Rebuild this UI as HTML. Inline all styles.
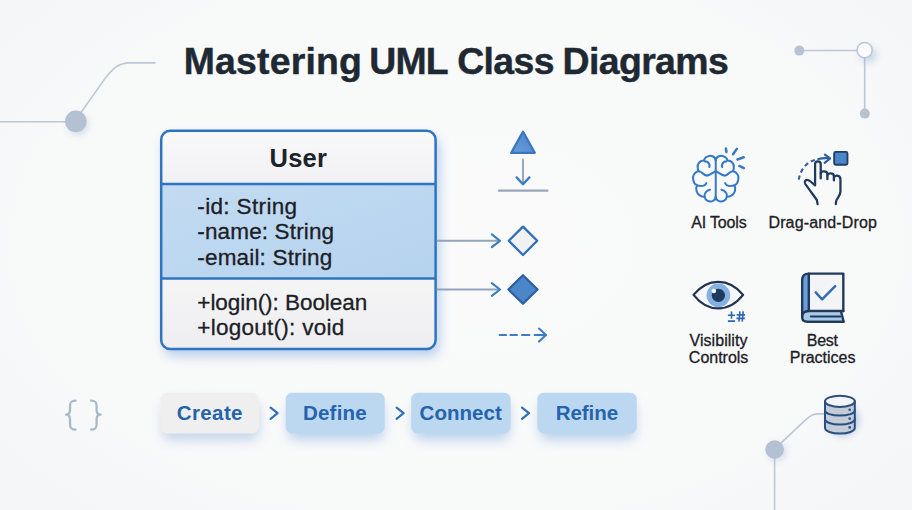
<!DOCTYPE html>
<html>
<head>
<meta charset="utf-8">
<style>
html,body{margin:0;padding:0;}
body{width:912px;height:510px;overflow:hidden;position:relative;background:#f8f9fa;
  font-family:"Liberation Sans",sans-serif;}
#bg{position:absolute;left:0;top:0;width:912px;height:510px;
  background:radial-gradient(ellipse 75% 85% at 50% 48%,#fafafb 0%,#f8f9f9 60%,#f3f4f6 100%);}
svg{position:absolute;left:0;top:0;}
text{font-family:"Liberation Sans",sans-serif;}
.b{font-weight:bold;}
#texts text:not(.b){stroke:#1c2026;stroke-width:0.3px;}
#t_t1,#t_t2,#t_t3,#t_t4{stroke:#1f2933;stroke-width:0.45px;}
</style>
</head>
<body>
<div id="bg"></div>
<svg id="main" width="912" height="510" viewBox="0 0 912 510" fill="none">
<defs>
  <filter id="shBox" x="-20%" y="-20%" width="140%" height="150%">
    <feGaussianBlur stdDeviation="6"/>
  </filter>
  <filter id="shPill" x="-30%" y="-50%" width="160%" height="250%">
    <feGaussianBlur stdDeviation="6"/>
  </filter>
  <filter id="shNode" x="-100%" y="-100%" width="300%" height="300%">
    <feGaussianBlur stdDeviation="3.5"/>
  </filter>
  <linearGradient id="hdG" x1="0" y1="0" x2="0" y2="1">
    <stop offset="0" stop-color="#f9f9fa"/><stop offset="1" stop-color="#f1f1f3"/>
  </linearGradient>
  <linearGradient id="opG" x1="0" y1="0" x2="0" y2="1">
    <stop offset="0" stop-color="#f5f5f6"/><stop offset="1" stop-color="#eeeef0"/>
  </linearGradient>
  <linearGradient id="atG" x1="0" y1="0" x2="1" y2="1">
    <stop offset="0" stop-color="#c2dbf2"/><stop offset="1" stop-color="#b6d3ee"/>
  </linearGradient>
  <linearGradient id="triG" x1="0" y1="1" x2="1" y2="0">
    <stop offset="0" stop-color="#6a9edb"/><stop offset="1" stop-color="#4682c8"/>
  </linearGradient>
  <clipPath id="boxClip"><rect x="161.2" y="130.7" width="274.4" height="218.2" rx="9"/></clipPath>
</defs>
<!--DECO-->
<g id="deco" stroke="#bcc8d7" stroke-width="1.6" stroke-linecap="round">
  <!-- top-left -->
  <path d="M0 121.8 H66"/>
  <path d="M81.5 111.8 L103.5 80.6 C112 69, 118 62.9, 130 62.9 H155" />
  <circle cx="78" cy="124.5" r="10" fill="#9db4cf" stroke="none" opacity="0.45" filter="url(#shNode)"/>
  <circle cx="75.8" cy="121.3" r="10.8" fill="#b3c1d3" stroke="none"/>
  <!-- top-right -->
  <path d="M804 50.5 H857"/>
  <path d="M864.7 58 V109"/>
  <circle cx="799.3" cy="50.6" r="5" fill="#b6c3d3" stroke="none"/>
  <circle cx="864.8" cy="113.6" r="5" fill="#b6c3d3" stroke="none"/>
  <circle cx="868.5" cy="54.5" r="8" fill="#8fb0d8" stroke="none" opacity="0.45" filter="url(#shNode)"/>
  <circle cx="864.6" cy="50.1" r="7.6" fill="#fbfcfd" stroke="#bcc8d7" stroke-width="1.6"/>
  <!-- bottom-right -->
  <path d="M774.6 458 V510"/>
  <path d="M781.4 442.7 L805.3 420.2 C811 415, 814 413.9, 819 413.9 H826"/>
  <circle cx="777" cy="452" r="9" fill="#9db4cf" stroke="none" opacity="0.4" filter="url(#shNode)"/>
  <circle cx="774.6" cy="449.5" r="9.3" fill="#b3c1d3" stroke="none"/>
  <!-- braces -->
  <g stroke="#a9b9cc" stroke-width="2.3" fill="none" stroke-linejoin="round">
    <path d="M75.6 400.6 C71.2 400.6, 70 402, 70 406 V410 C70 413, 68.5 414.6, 66 414.6 C68.5 414.6, 70 416.2, 70 419.2 V424.2 C70 428.2, 71.2 429.6, 75.6 429.6"/>
    <path d="M91 400.6 C95.4 400.6, 96.6 402, 96.6 406 V410 C96.6 413, 98.1 414.6, 100.6 414.6 C98.1 414.6, 96.6 416.2, 96.6 419.2 V424.2 C96.6 428.2, 95.4 429.6, 91 429.6"/>
  </g>
</g>
<!--BOX-->
<g id="box">
  <rect x="164" y="137" width="275" height="219" rx="10" fill="#5590d6" opacity="0.42" filter="url(#shBox)"/>
  <g clip-path="url(#boxClip)">
    <rect x="160" y="129" width="278" height="55" fill="url(#hdG)"/>
    <rect x="160" y="184" width="278" height="95" fill="url(#atG)"/>
    <rect x="160" y="278.6" width="278" height="72" fill="url(#opG)"/>
  </g>
  <path d="M161 184.05 H436" stroke="#2f74c0" stroke-width="2.5"/>
  <path d="M161 278.6 H436" stroke="#2f74c0" stroke-width="2.5"/>
  <rect x="161.2" y="130.7" width="274.4" height="218.2" rx="9" stroke="#2f74c0" stroke-width="2.5"/>
</g>
<!--CONN-->
<g id="conn" stroke-linecap="round" stroke-linejoin="round">
  <!-- triangle / inheritance -->
  <path d="M523 131.6 L534.8 152.9 H511.2 Z" fill="url(#triG)" stroke="#3a77bf" stroke-width="2.2"/>
  <path d="M523 159.5 V183" stroke="#98a7bb" stroke-width="2"/>
  <path d="M516.6 177.4 L523 184.3 L529.4 177.4" stroke="#3b7cc4" stroke-width="2.4"/>
  <path d="M499 190.6 H547.3" stroke="#9aa7ba" stroke-width="2.4" />
  <!-- connector 1 -->
  <path d="M437.5 240.8 H499" stroke="#93a3ba" stroke-width="1.9"/>
  <path d="M491.8 234.4 L500 240.8 L491.8 247.2" stroke="#3b7cc4" stroke-width="2.1"/>
  <path d="M523 226.6 L537.2 240.8 L523 255 L508.8 240.8 Z" fill="#f0f1f3" stroke="#2f6fb8" stroke-width="2.3"/>
  <!-- connector 2 -->
  <path d="M437.5 289.5 H499" stroke="#93a3ba" stroke-width="1.9"/>
  <path d="M491.8 283.1 L500 289.5 L491.8 295.9" stroke="#3b7cc4" stroke-width="2.1"/>
  <path d="M523 275.2 L537.6 289.5 L523 303.8 L508.4 289.5 Z" fill="#4a86c8" stroke="#2b5f9f" stroke-width="2.2"/>
  <!-- dashed arrow -->
  <path d="M499.6 335 H506.2 M510.4 335 H517 M522 335 H529.4 M534.6 335 H545.6" stroke="#3b7cc4" stroke-width="2"/>
  <path d="M539 328.6 L546 335 L539 341.6" stroke="#3b7cc4" stroke-width="2.1"/>
</g>
<!--STEPS-->
<g id="steps">
  <g filter="url(#shPill)" opacity="0.42">
    <rect x="163" y="402" width="96" height="38" rx="8" fill="#7fa3d2"/>
    <rect x="288" y="402" width="96" height="38" rx="8" fill="#6a9dda"/>
    <rect x="413.5" y="402" width="96" height="38" rx="8" fill="#6a9dda"/>
    <rect x="539.5" y="402" width="96" height="38" rx="8" fill="#6a9dda"/>
  </g>
  <rect x="160.5" y="392.8" width="98.5" height="40.6" rx="6.5" fill="#efeff0"/>
  <rect x="285.7" y="392.7" width="99" height="40.7" rx="6.5" fill="#bcd8f1"/>
  <rect x="411.2" y="392.7" width="99.5" height="40.7" rx="6.5" fill="#bcd8f1"/>
  <rect x="537.3" y="392.7" width="99.5" height="40.7" rx="6.5" fill="#bcd8f1"/>
  <g stroke="#2f6fbd" stroke-width="2.2" stroke-linecap="round" stroke-linejoin="round">
    <path d="M270.6 407.6 L277.6 413.2 L270.6 418.8"/>
    <path d="M396.6 407.6 L403.6 413.2 L396.6 418.8"/>
    <path d="M522 407.6 L529 413.2 L522 418.8"/>
  </g>
</g>
<!--ICONS-->
<g id="icons" stroke-linecap="round" stroke-linejoin="round">
  <!-- brain : coords in zoomed px, origin (686,142), scale 1/7.97 -->
  <g id="brain" transform="translate(686 142) scale(0.12547)" stroke="#3579c8" stroke-width="16.5" fill="none">
    <g transform="translate(7.1 5) scale(0.97 0.995)">
    <path d="M237 125 V455"/>
    <path id="brainL" d="M237 140 C232 108, 195 98, 172 110 C155 116, 143 128, 141 143 C108 142, 84 168, 89 202 C89 212, 91 220, 95 228 C60 238, 44 268, 52 298 C56 322, 68 336, 83 342 C68 372, 80 410, 110 425 C121 432, 134 435, 146 434 C150 460, 180 476, 206 470 C226 464, 237 450, 237 432"/>
    <path d="M148 150 C174 150, 192 170, 184 196"/>
    <path d="M97 230 C125 234, 135 256, 160 264 C185 268, 212 240, 237 228"/>
    <path d="M84 344 C114 350, 150 346, 160 324"/>
    <path d="M146 434 C140 410, 160 384, 190 378"/>
    <g transform="translate(474 0) scale(-1 1)">
      <path d="M237 140 C232 108, 195 98, 172 110 C155 116, 143 128, 141 143 C108 142, 84 168, 89 202 C89 212, 91 220, 95 228 C60 238, 44 268, 52 298 C56 322, 68 336, 83 342 C68 372, 80 410, 110 425 C121 432, 134 435, 146 434 C150 460, 180 476, 206 470 C226 464, 237 450, 237 432"/>
      <path d="M148 150 C174 150, 192 170, 184 196"/>
      <path d="M97 230 C125 234, 135 256, 160 264 C185 268, 212 240, 237 228"/>
      <path d="M84 344 C114 350, 150 346, 160 324"/>
      <path d="M146 434 C140 410, 160 384, 190 378"/>
    </g>
    </g>
    <path d="M318 52 L322 80 M405 55 L375 98 M410 139 L460 122 M425 191 L462 208" stroke-width="20"/>
  </g>
  <!-- drag and drop : origin (790,142) -->
  <g id="drag" transform="translate(790 142) scale(0.12547)" fill="none">
    <path d="M70 300 C78 240, 120 160, 205 142" stroke="#2f5f9f" stroke-width="17" stroke-dasharray="34 26" stroke-linecap="butt"/>
    <path d="M225 136 C255 128, 285 128, 312 130" stroke="#2f5f9f" stroke-width="17"/>
    <path d="M278 100 L320 131 L276 166" stroke="#2f5f9f" stroke-width="17"/>
    <rect x="352" y="79" width="106" height="102" rx="12" fill="#4a86c8" stroke="#1f3f66" stroke-width="15"/>
    <g stroke="#1f3a5c" stroke-width="18">
      <path d="M220 495 L214 462 C190 430, 150 372, 122 336 C108 318, 124 296, 148 305 C166 312, 184 334, 200 346 V176 C200 146, 245 146, 245 176 V290"/>
      <path d="M245 252 C245 226, 298 228, 298 256 V296"/>
      <path d="M298 268 C299 242, 350 245, 350 272 V306"/>
      <path d="M350 288 C352 258, 402 262, 402 296 V398 C400 430, 372 452, 368 470 L365 495"/>
    </g>
  </g>
  <!-- eye : origin (686,264) -->
  <g id="eye" transform="translate(686 264) scale(0.12547)">
    <path d="M60 246 C120 172, 190 142, 256 142 C325 142, 395 172, 455 246 C395 322, 325 354, 256 354 C190 354, 120 322, 60 246 Z" fill="#f6f7f9" stroke="none"/>
    <circle cx="258" cy="250" r="94" fill="#86b0e1"/>
    <circle cx="258" cy="250" r="53" fill="#203a5e"/>
    <circle cx="222" cy="215" r="18" fill="#fbfcfd"/>
    <path d="M60 246 C120 172, 190 142, 256 142 C325 142, 395 172, 455 246 C395 322, 325 354, 256 354 C190 354, 120 322, 60 246 Z" fill="none" stroke="#1f3550" stroke-width="18"/>
    <g id="pm" stroke="#2f67b0" stroke-width="13" stroke-linecap="butt" fill="none">
      <path d="M334 408 H391 M362.5 379 V437 M334 455 H391"/>
      <path d="M404 405 H471 M402 433 H469 M430 378 L422 459 M456 378 L448 459"/>
    </g>
  </g>
  <!-- book : origin (790,264) -->
  <g id="book" transform="translate(790 264) scale(0.12547)">
    <path d="M150 77 H425 V375 H150 Z" fill="#f3f4f6"/>
    <path d="M150 77 C112 77, 97 98, 97 130 V420 C97 392, 115 377, 150 375 Z" fill="#6a9fdc"/>
    <path d="M150 385 H405 L420 452 H135 C112 450, 105 435, 108 418 C112 398, 128 386, 150 385 Z" fill="#a9c9ec"/>
    <g fill="none" stroke="#213a5c" stroke-width="19">
      <path d="M425 375 V77 H150 C112 77, 97 98, 97 130 V425"/>
      <path d="M150 77 V375"/>
      <path d="M425 375 H150 C115 377, 97 392, 97 422 C97 448, 112 460, 140 460 H428 L408 385"/>
      <path d="M165 418 H400" stroke-width="15"/>
    </g>
    <path d="M205 226 L256 282 L360 176" fill="none" stroke="#2f6cb5" stroke-width="19"/>
  </g>
  <!-- database -->
  <g id="db">
    <ellipse cx="843" cy="420" rx="16" ry="16" fill="#6f9fd8" opacity="0.5" filter="url(#shNode)"/>
    <path d="M825 401.3 V427.8 C825 431.2, 831.6 433.6, 839.9 433.6 C848.2 433.6, 854.8 431.2, 854.8 427.8 V401.3 Z" fill="#c3ccd8"/>
    <ellipse cx="839.9" cy="401.3" rx="14.9" ry="5.6" fill="#f4f5f7"/>
    <g fill="none" stroke="#2a4f7f" stroke-width="2">
      <ellipse cx="839.9" cy="401.3" rx="14.9" ry="5.6"/>
      <path d="M825 401.3 V427.8 C825 431.2, 831.6 433.6, 839.9 433.6 C848.2 433.6, 854.8 431.2, 854.8 427.8 V401.3"/>
      <path d="M825 410.2 C825 413.4, 831.6 415.6, 839.9 415.6 C848.2 415.6, 854.8 413.4, 854.8 410.2"/>
      <path d="M825 419 C825 422.2, 831.6 424.6, 839.9 424.6 C848.2 424.6, 854.8 422.2, 854.8 419"/>
    </g>
    <circle cx="849.7" cy="409.8" r="1.3" fill="#2a4f7f"/>
    <circle cx="849.7" cy="418.6" r="1.3" fill="#2a4f7f"/>
    <circle cx="849.7" cy="427.4" r="1.3" fill="#2a4f7f"/>
  </g>
</g>
<!--TEXT-->
<g id="texts">
<text id="t_t1" x="183.75" y="73.7" font-size="37.4" textLength="178.15" lengthAdjust="spacing" fill="#1f2933" class="b">Mastering</text>
<text id="t_t2" x="369.30" y="73.7" font-size="37.4" textLength="79.20" lengthAdjust="spacing" fill="#1f2933" class="b">UML</text>
<text id="t_t3" x="457.20" y="73.7" font-size="37.4" textLength="97.25" lengthAdjust="spacing" fill="#1f2933" class="b">Class</text>
<text id="t_t4" x="562.55" y="73.7" font-size="37.4" textLength="166.20" lengthAdjust="spacing" fill="#1f2933" class="b">Diagrams</text>
<text id="t_user" x="269.45" y="166.5" font-size="25.5" textLength="57.50" lengthAdjust="spacing" fill="#1d232b" class="b">User</text>
<text id="t_a1" x="197.30" y="213.7" font-size="22.5" textLength="99.80" lengthAdjust="spacing" fill="#1c2026">-id: String</text>
<text id="t_a2" x="197.30" y="239.3" font-size="22.5" textLength="136.80" lengthAdjust="spacing" fill="#1c2026">-name: String</text>
<text id="t_a3" x="197.30" y="264.7" font-size="22.5" textLength="134.85" lengthAdjust="spacing" fill="#1c2026">-email: String</text>
<text id="t_o1" x="197.30" y="310.0" font-size="22.5" textLength="169.95" lengthAdjust="spacing" fill="#1c2026">+login(): Boolean</text>
<text id="t_o2" x="197.30" y="335.2" font-size="22.5" textLength="146.90" lengthAdjust="spacing" fill="#1c2026">+logout(): void</text>
<text id="t_s1" x="176.80" y="420.1" font-size="20.5" textLength="65.70" lengthAdjust="spacing" fill="#2563ad" class="b">Create</text>
<text id="t_s2" x="302.95" y="420.1" font-size="20.5" textLength="63.75" lengthAdjust="spacing" fill="#2563ad" class="b">Define</text>
<text id="t_s3" x="419.55" y="420.1" font-size="20.5" textLength="82.20" lengthAdjust="spacing" fill="#2563ad" class="b">Connect</text>
<text id="t_s4" x="555.65" y="420.1" font-size="20.5" textLength="62.45" lengthAdjust="spacing" fill="#2563ad" class="b">Refine</text>
<text id="t_l1" x="691.30" y="228" font-size="16" textLength="55.40" lengthAdjust="spacing" fill="#1c2026">AI Tools</text>
<text id="t_l2" x="768.45" y="228" font-size="16" textLength="108.45" lengthAdjust="spacing" fill="#1c2026">Drag-and-Drop</text>
<text id="t_l3" x="689.55" y="345.5" font-size="16" textLength="57.90" lengthAdjust="spacing" fill="#1c2026">Visibility</text>
<text id="t_l4" x="688.85" y="363" font-size="16" textLength="59.50" lengthAdjust="spacing" fill="#1c2026">Controls</text>
<text id="t_l5" x="806.80" y="345.5" font-size="16" textLength="31.10" lengthAdjust="spacing" fill="#1c2026">Best</text>
<text id="t_l6" x="789.75" y="363" font-size="16" textLength="65.65" lengthAdjust="spacing" fill="#1c2026">Practices</text>
</g>
</svg>
</body>
</html>
